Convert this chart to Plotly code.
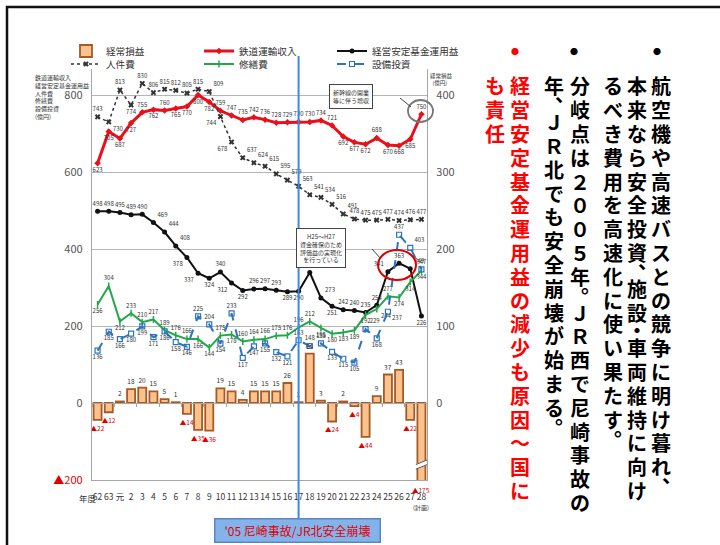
import plotly.graph_objects as go

# ---------------- data ----------------
years = ["62", "63", "元", "2", "3", "4", "5", "6", "7", "8", "9", "10", "11", "12", "13",
         "14", "15", "16", "17", "18", "19", "20", "21", "22", "23", "24", "25", "26", "27", "28"]

ordinary_profit = [-22, -12, 2, 18, 20, 15, 5, 1, -14, -35, -36, 19, 15, 4, 15,
                   15, 15, 26, 1, 64, 3, -24, 2, -4, -44, 9, 37, 43, -22, -175]
rail_revenue = [623, 705, 687, 727, 755, 762, 760, 765, 770, 800, 782, 759, 747, 735, 742,
                736, 728, 729, 730, 730, 734, 721, 692, 677, 672, 688, 670, 668, 685, 750]
fund_income = [498, 498, 495, 489, 490, 469, 444, 408, 378, 337, 324, 340, 312, 292, 296,
               297, 293, 289, 290, 339, 273, 251, 242, 240, 235, 254, 341, 363, 349, 226]
personnel = [743, 730, 813, 774, 830, 806, 815, 812, 805, 815, 809, 744, 678, 637, 624,
             615, 595, 579, 563, 541, 534, 516, 491, 478, 475, 475, 477, 474, 476, 477]
repair = [256, 304, 212, 233, 210, 217, 189, 176, 166, 166, 144, 175, 178, 160, 164,
          166, 175, 176, 196, 212, 195, 180, 183, 189, 229, 244, 277, 274, 314, 344]
capex = [136, 185, 166, 180, 199, 171, 186, 158, 146, 225, 204, 154, 233, 117, 147,
         155, 132, 121, 163, 148, 155, 133, 115, 105, 192, 168, 237, 437, 403, 347]

left_ticks = [-200, 0, 200, 400, 600, 800]
left_ticktext = ["<span style='color:#e00000'>▲200</span>", "0", "200", "400", "600", "800"]
right_ticks = [0, 100, 200, 300, 400]

# label placement styles (t=top, b=bottom, r=right, l=left)
red_pos = "b b b b t b t b b b b t t t t t t t t t t t b b b t b b b t".split()
pers_pos = "t br t b t t t t t t tr bl bl tr tr tr tr tr tr tr tr tr tr t t t t t t t".split()
fund_pos = "t t t t t tr tr tr bl bl b t bl b t t t b b t tr b t t t t tl t tr b".split()
rep_pos = "b t b t t t t t t b b t b t t t t t t t b b b b br br t b b b".split()
cap_pos = "b b b b b b b b b t t b t b b b b b t t t b b b t b br t tr t".split()
POS = {"t": "top center", "b": "bottom center", "tr": "top right", "tl": "top left",
       "br": "bottom right", "bl": "bottom left"}

# ---------------- layout constants ----------------
W, H = 720, 545
PL, PR, PT, PB = 92, 427, 69, 480
PXU = 0.385  # px per left-axis unit
YMIN = -200
YMAX = YMIN + (PB - PT) / PXU


def fx(p):
    return (p - PL) / (PR - PL)


def fy(p):
    return (PB - p) / (PB - PT)


JP = "Noto Sans CJK JP"
GRAY = "#a6a6a6"
LBL = dict(size=6, color="#333333", family=JP)

fig = go.Figure()

bar_text = [("▲%d" % -v if v < 0 else str(v)) for v in ordinary_profit]
bar_text[-1] = ""
bar_colors = ["#e00000" if v < 0 else "#333333" for v in ordinary_profit]

fig.add_trace(go.Bar(
    x=years, y=ordinary_profit, xaxis="x2", yaxis="y2", name="経常損益",
    marker=dict(color="#fbc28e", line=dict(color="#a65b25", width=1.8)),
    width=0.72, text=bar_text, textposition="outside", constraintext="none",
    textfont=dict(size=6.5, color=bar_colors, family=JP), legend="legend"))

fig.add_trace(go.Scatter(
    x=years, y=rail_revenue, name="鉄道運輸収入", mode="lines+markers+text",
    line=dict(color="#e8101a", width=3), marker=dict(symbol="diamond", size=5, color="#e8101a"),
    text=[str(v) for v in rail_revenue], textposition=[POS[p] for p in red_pos],
    textfont=LBL, legend="legend"))

fig.add_trace(go.Scatter(
    x=years, y=fund_income, name="経営安定基金運用益", mode="lines+markers+text",
    line=dict(color="#111111", width=2), marker=dict(symbol="circle", size=5, color="#111111"),
    text=[str(v) for v in fund_income], textposition=[POS[p] for p in fund_pos],
    textfont=LBL, legend="legend"))

fig.add_trace(go.Scatter(
    x=years, y=personnel, name="人件費", mode="lines+markers+text",
    line=dict(color="#333333", width=1.5, dash="dot"),
    marker=dict(symbol="x", size=5, color="#333333"),
    text=[str(v) for v in personnel], textposition=[POS[p] for p in pers_pos],
    textfont=LBL, legend="legend2"))

fig.add_trace(go.Scatter(
    x=years, y=repair, name="修繕費", mode="lines+markers+text",
    line=dict(color="#22a84a", width=2),
    marker=dict(symbol="line-ns-open", size=5, color="#22a84a", line=dict(width=1.5, color="#22a84a")),
    text=[str(v) for v in repair], textposition=[POS[p] for p in rep_pos],
    textfont=LBL, legend="legend2"))

fig.add_trace(go.Scatter(
    x=years, y=capex, name="設備投資", mode="lines+markers+text",
    line=dict(color="#2e74bd", width=2, dash="dash"),
    marker=dict(symbol="square-open", size=5, color="#2e74bd", line=dict(width=1.2)),
    text=[str(v) for v in capex], textposition=[POS[p] for p in cap_pos],
    textfont=LBL, legend="legend2"))

# ---------------- shapes ----------------
shapes = []
# slide frame
shapes.append(dict(type="rect", xref="paper", yref="paper", x0=fx(7), x1=fx(740),
                   y0=fy(570), y1=fy(7), line=dict(color="#111111", width=2.5)))
# 2005 line
i17 = years.index("17")
shapes.append(dict(type="line", xref="x", yref="paper", x0=i17, x1=i17, y0=fy(518), y1=fy(56),
                   line=dict(color="#3c88e8", width=2)))
# axis break on the last bar
i28 = years.index("28")
shapes.append(dict(type="line", xref="x", yref="y2", x0=i28 - 0.5, x1=i28 + 0.5, y0=-83, y1=-77,
                   line=dict(color="white", width=5)))
shapes.append(dict(type="line", xref="x", yref="y2", x0=i28 - 0.5, x1=i28 + 0.5, y0=-86, y1=-80,
                   line=dict(color="#555555", width=1)))
shapes.append(dict(type="line", xref="x", yref="y2", x0=i28 - 0.5, x1=i28 + 0.5, y0=-80, y1=-74,
                   line=dict(color="#555555", width=1)))
# ellipse around final revenue point
shapes.append(dict(type="circle", xref="paper", yref="paper", x0=fx(408), x1=fx(433),
                   y0=fy(122), y1=fy(100), line=dict(color="#777777", width=1.8)))
shapes.append(dict(type="line", xref="paper", yref="paper", x0=fx(400), x1=fx(411),
                   y0=fy(98), y1=fy(107), line=dict(color="#444444", width=1)))
# red ellipse H25-H27
shapes.append(dict(type="circle", xref="paper", yref="paper", x0=fx(378), x1=fx(416),
                   y0=fy(280), y1=fy(250), line=dict(color="#e00000", width=2)))
shapes.append(dict(type="line", xref="paper", yref="paper", x0=fx(372), x1=fx(381),
                   y0=fy(249), y1=fy(259), line=dict(color="#444444", width=1)))

# ---------------- annotations ----------------
ann = []
ann.append(dict(xref="paper", yref="paper", x=fx(33), y=fy(71), xanchor="left", yanchor="top",
                text="鉄道運輸収入<br>経営安定基金運用益<br>人件費<br>修繕費<br>設備投資<br>(億円)",
                align="left", showarrow=False, font=dict(size=6, color="#333333", family=JP)))
ann.append(dict(xref="paper", yref="paper", x=fx(442), y=fy(70), xanchor="center", yanchor="top",
                text="経常損益<br>&nbsp;&nbsp;(億円)", align="left", showarrow=False,
                font=dict(size=5.5, color="#333333", family=JP)))
ann.append(dict(xref="paper", yref="paper", x=fx(373), y=fy(96), yanchor="middle",
                text="新幹線の開業<br>等に伴う増収",
                showarrow=False, bgcolor="white", bordercolor="#444444", borderwidth=1, borderpad=3,
                font=dict(size=6, color="#333333", family=JP)))
ann.append(dict(xref="paper", yref="paper", x=fx(346), y=fy(248), yanchor="middle",
                text="H25～H27<br>資金確保のため<br>評価益の実現化<br>を行っている",
                showarrow=False, bgcolor="white", bordercolor="#444444", borderwidth=1, borderpad=3,
                font=dict(size=6, color="#333333", family=JP)))
ann.append(dict(xref="x", yref="paper", x=i28, y=fy(490), yanchor="middle", text="▲175",
                showarrow=False, font=dict(size=6.5, color="#e00000", family=JP)))
ann.append(dict(xref="paper", yref="paper", x=fx(77), y=fy(498), yanchor="middle", text="年度",
                showarrow=False, font=dict(size=8.5, color="#333333", family=JP)))
ann.append(dict(xref="x", yref="paper", x=i28, y=fy(507), yanchor="middle", text="(計画)",
                showarrow=False, font=dict(size=6, color="#333333", family=JP)))
ann.append(dict(xref="paper", yref="paper", x=fx(297), y=fy(530), yanchor="middle",
                text="'05 尼崎事故/JR北安全崩壊", showarrow=False, width=162, height=20,
                bgcolor="#84b3ea", bordercolor="#5b86c0", borderwidth=1.5,
                font=dict(size=12, color="#e00000", family=JP)))

# vertical Japanese text (one annotation per character, stacked top to bottom)
columns = [
    ("航空機や高速バスとの競争に明け暮れ、", 661, "#000000"),
    ("本来なら安全投資、施設・車両維持に向け", 637, "#000000"),
    ("るべき費用を高速化に使い果たす。", 613, "#000000"),
    ("分岐点は２００５年。ＪＲ西で尼崎事故の", 580, "#000000"),
    ("年、ＪＲ北でも安全崩壊が始まる。", 554, "#000000"),
    ("経営安定基金運用益の減少も原因～国に", 520, "#ff0000"),
    ("も責任", 495, "#ff0000"),
]
bullets = [(663, "#000000"), (580, "#000000"), (521, "#ff0000")]
FS = 20
PITCH = 23.8
TOP = 74
for bx, bc in bullets:
    ann.append(dict(xref="paper", yref="paper", x=fx(bx), y=fy(51), yanchor="middle", text="●",
                    showarrow=False, font=dict(size=8, color=bc, family=JP)))
for text, cx, col in columns:
    top = TOP
    for ch in text:
        if ch in "、。":
            x, y, h, w, va, al = cx + 6, top + 5, 11, 10, "bottom", "left"
            top += PITCH * 0.5
        elif ch == "・":
            x, y, h, w, va, al = cx, top + PITCH * 0.25, 11, 20, "middle", "center"
            top += PITCH * 0.5
        else:
            x, y, h, w, va, al = cx, top + PITCH / 2, 23, 22, "middle", "center"
            top += PITCH
        ann.append(dict(xref="paper", yref="paper", x=fx(x), y=fy(y), text=ch, showarrow=False,
                        xanchor="center", yanchor="middle", height=h, width=w, valign=va, align=al,
                        font=dict(size=FS, color=col, family=JP, weight="bold")))

fig.update_layout(
    width=W, height=H, margin=dict(l=PL, r=W - PR, t=PT, b=H - PB),
    paper_bgcolor="white", plot_bgcolor="white",
    font=dict(family=JP, color="#333333"),
    showlegend=True, bargap=0.3,
    xaxis=dict(type="category", categoryorder="array", categoryarray=years, range=[-0.5, len(years) - 0.5],
               showline=True, linecolor=GRAY, linewidth=1.2, showgrid=False, ticks="outside",
               ticklen=9, tickcolor="rgba(0,0,0,0)", tickangle=0,
               tickfont=dict(size=8.5, color="#333333"), fixedrange=True),
    xaxis2=dict(type="category", categoryorder="array", categoryarray=years, range=[-0.5, len(years) - 0.5],
                overlaying="x", anchor="free", position=(PB - 403) / (PB - PT),
                showline=True, linecolor=GRAY, linewidth=1.2, showgrid=False, ticks="outside",
                tickson="boundaries", ticklen=3, tickcolor=GRAY, showticklabels=False),
    yaxis=dict(range=[YMIN, YMAX], tickvals=left_ticks, ticktext=left_ticktext, showgrid=True,
               gridcolor="#b5b5b5", gridwidth=1, zeroline=False, showline=True, linecolor=GRAY,
               linewidth=1.2, ticks="outside", ticklen=6, tickcolor="rgba(0,0,0,0)",
               tickfont=dict(size=11, color="#555555")),
    yaxis2=dict(range=[YMIN / 2, YMAX / 2], tickvals=right_ticks, overlaying="y", side="right",
                anchor="x", showgrid=False, zeroline=False, showline=True, linecolor=GRAY, linewidth=1.2,
                ticks="outside", ticklen=6, tickcolor="rgba(0,0,0,0)",
                tickfont=dict(size=11, color="#555555")),
    legend=dict(orientation="h", x=fx(66), y=fy(51), xanchor="left", yanchor="middle",
                entrywidth=88, entrywidthmode="pixels", font=dict(size=9.6, color="#333333", family=JP),
                bgcolor="rgba(0,0,0,0)", itemclick=False),
    legend2=dict(orientation="h", x=fx(66), y=fy(64), xanchor="left", yanchor="middle",
                 entrywidth=88, entrywidthmode="pixels", font=dict(size=9.6, color="#333333", family=JP),
                 bgcolor="rgba(0,0,0,0)", itemclick=False),
    shapes=shapes, annotations=ann,
)

fig.write_html("out.html")
